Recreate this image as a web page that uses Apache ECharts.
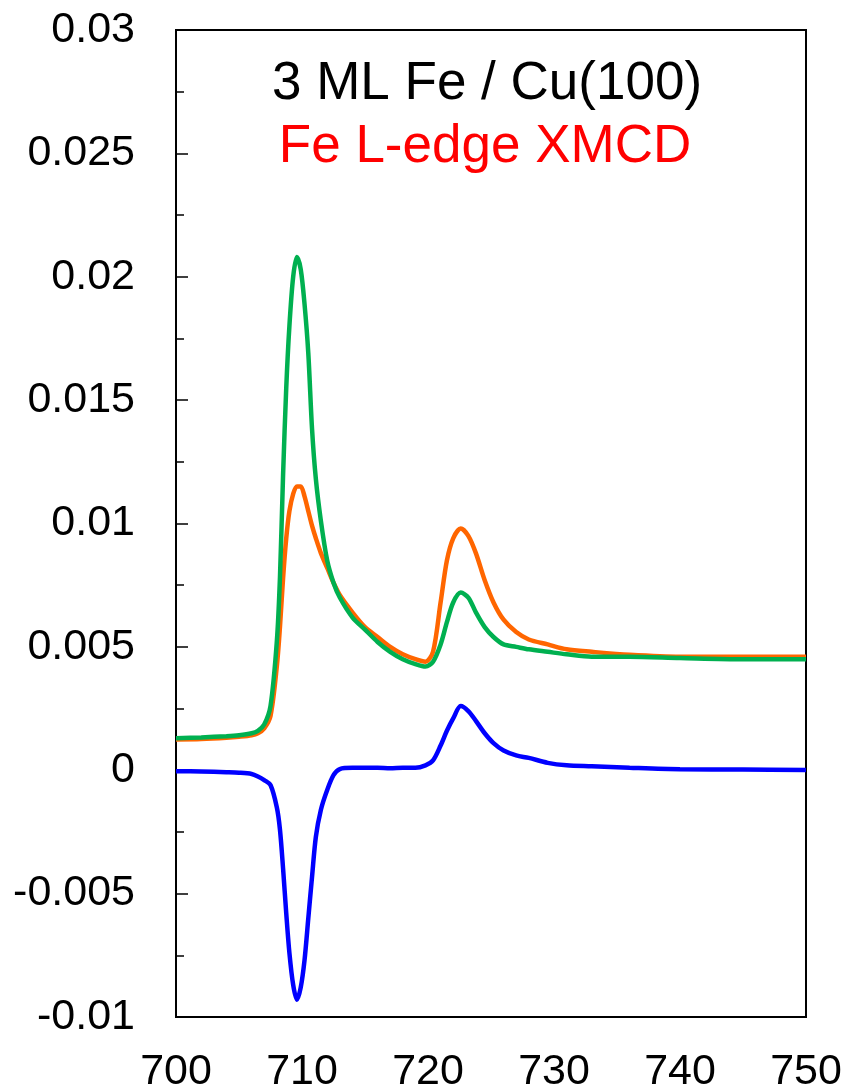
<!DOCTYPE html>
<html>
<head>
<meta charset="utf-8">
<script src="https://cdn.jsdelivr.net/npm/echarts@6/dist/echarts.min.js"></script>
<style>
  html, body { margin: 0; padding: 0; background: #fff; }
  #main { width: 844px; height: 1088px; }
</style>
</head>
<body>
<div id="main"></div>
<script>
// photon energy (eV)
var energy = [700, 702, 704, 705, 706, 706.5, 707, 707.5, 708, 708.25,
              708.5, 708.75, 709, 709.3, 709.6, 709.9, 710.2, 710.5, 710.8, 711.1,
              711.5, 712, 712.5, 713, 714, 715, 716, 717, 718, 719,
              719.8, 720.4, 721, 721.5, 722, 722.6, 723.2, 723.8, 724.5, 725.2,
              726, 727, 728, 729.5, 731, 733, 736, 740, 745, 750];

// one helicity (orange)
var muPlus = [0.00125, 0.00127, 0.00132, 0.00136, 0.00142, 0.0015, 0.0017, 0.0022, 0.0042, 0.0058,
              0.0078, 0.0094, 0.0105, 0.0112, 0.0115, 0.0115, 0.0111, 0.0105, 0.0099, 0.0094,
              0.0088, 0.0082, 0.0076, 0.0071, 0.0064, 0.0058, 0.0054, 0.0050, 0.0047, 0.0045,
              0.0044, 0.0048, 0.0068, 0.0085, 0.0094, 0.0098, 0.0095, 0.0088, 0.0077, 0.0068,
              0.0061, 0.0056, 0.0053, 0.0051, 0.0049, 0.0048, 0.00468, 0.0046, 0.0046, 0.0046];

// other helicity (green)
var muMinus = [0.0013, 0.00133, 0.00138, 0.00142, 0.0015, 0.0016, 0.00185, 0.0026, 0.0052, 0.0078,
               0.0120, 0.0155, 0.0180, 0.0200, 0.0208, 0.0203, 0.0189, 0.0169, 0.0138, 0.0118,
               0.0101, 0.0085, 0.0076, 0.0070, 0.0062, 0.0057, 0.0052, 0.0048, 0.0045, 0.0043,
               0.0042, 0.0044, 0.0051, 0.0060, 0.0068, 0.0072, 0.0070, 0.0064, 0.0058, 0.0054,
               0.0051, 0.0050, 0.0049, 0.0048, 0.0047, 0.0046, 0.0046, 0.00455, 0.0045, 0.0045];

// XMCD difference (blue)
var xmcd = [-0.00004, -0.00005, -0.00008, -0.0001, -0.00015, -0.00025, -0.0004, -0.0006, -0.0015, -0.0024,
            -0.0040, -0.0058, -0.0074, -0.0087, -0.0093, -0.0088, -0.0077, -0.0060, -0.0043, -0.0027,
            -0.0016, -0.0008, -0.0002, 0.00005, 0.0001, 0.0001, 0.0001, 0.00008, 0.0001, 0.0001,
            0.0002, 0.0004, 0.0010, 0.0016, 0.0021, 0.0026, 0.0024, 0.0020, 0.0015, 0.0011,
            0.0008, 0.0006, 0.0005, 0.0003, 0.0002, 0.00016, 0.0001, 0.00004, 0.00003, 0.00001];

var titleLine1 = '3 ML Fe / Cu(100)';
var titleLine2 = 'Fe L-edge XMCD';

function pairs(ys) {
    var out = [];
    for (var i = 0; i < energy.length; i++) {
        out.push([energy[i], ys[i]]);
    }
    return out;
}

var font = '"Liberation Sans", Arial, sans-serif';
var myChart = echarts.init(document.getElementById('main'));

myChart.setOption({
    animation: false,
    backgroundColor: '#fff',
    grid: {
        left: 176, right: 38, top: 30, bottom: 71,
        containLabel: false, outerBoundsMode: 'none',
        show: true, borderColor: '#000', borderWidth: 2, backgroundColor: 'transparent'
    },
    graphic: [
        { type: 'text', x: 487, y: 84, z: 10,
          style: { text: titleLine1, fontSize: 53, fontFamily: font, fill: '#000', align: 'center', verticalAlign: 'middle' } },
        { type: 'text', x: 485, y: 147, z: 10,
          style: { text: titleLine2, fontSize: 53, fontFamily: font, fill: '#ff0000', align: 'center', verticalAlign: 'middle' } }
    ],
    xAxis: {
        type: 'value',
        min: 700, max: 750, interval: 10,
        axisLine: { show: true, onZero: false, lineStyle: { color: '#000', width: 2 } },
        axisTick: { show: false },
        splitLine: { show: false },
        axisLabel: { fontSize: 43, fontFamily: font, color: '#000', margin: 34 }
    },
    yAxis: {
        type: 'value',
        min: -0.01, max: 0.03, interval: 0.005,
        axisLine: { show: true, onZero: false, lineStyle: { color: '#000', width: 2 } },
        axisTick: { show: true, inside: true, length: 12, lineStyle: { color: '#000', width: 1.5 } },
        minorTick: { show: true, splitNumber: 2, length: 8, lineStyle: { color: '#000', width: 1.5 } },
        splitLine: { show: false },
        axisLabel: {
            fontSize: 43, fontFamily: font, color: '#000', margin: 41,
            formatter: function (v) { return String(+v.toFixed(3)); }
        }
    },
    series: [
        { name: 'XMCD', type: 'line', data: pairs(xmcd), showSymbol: false, smooth: 0.3,
          lineStyle: { color: '#0000ff', width: 4.5 } },
        { name: 'mu+', type: 'line', data: pairs(muPlus), showSymbol: false, smooth: 0.3,
          lineStyle: { color: '#ff6600', width: 4.5 } },
        { name: 'mu-', type: 'line', data: pairs(muMinus), showSymbol: false, smooth: 0.3,
          lineStyle: { color: '#00b050', width: 4.5 } }
    ]
});
</script>
</body>
</html>
